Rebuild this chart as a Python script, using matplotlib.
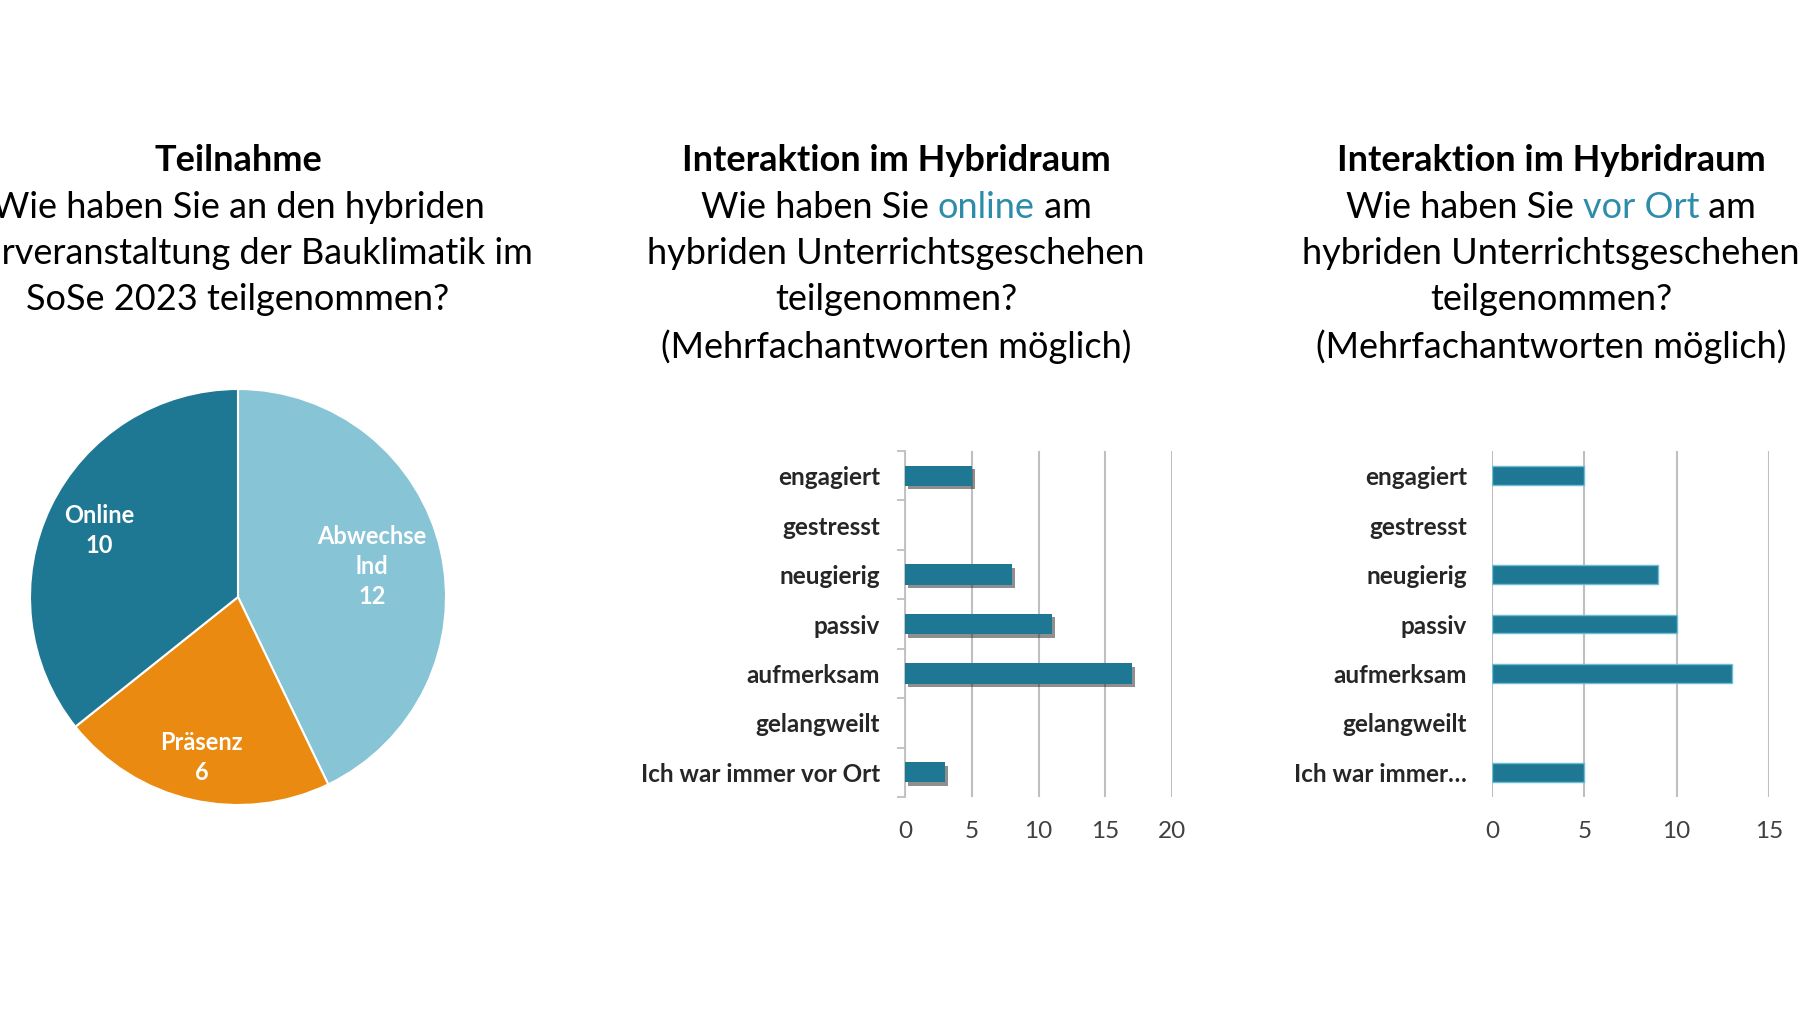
import numpy as np
import matplotlib
matplotlib.use("Agg")
from matplotlib import pyplot as plt
import matplotlib.patheffects as pe

plt.rcParams['font.family'] = ['Lato', 'DejaVu Sans']

# Daten
pie_labels = ['Abwechse\nlnd', 'Präsenz', 'Online']
pie_values = [12, 6, 10]
pie_colors = ['#87C4D5', '#EA8A10', '#1F7893']
pie_label_dist = [0.66, 0.79, 0.74]

kategorien = ['engagiert', 'gestresst', 'neugierig', 'passiv', 'aufmerksam',
              'gelangweilt', 'Ich war immer vor Ort']
kategorien_rechts = ['engagiert', 'gestresst', 'neugierig', 'passiv', 'aufmerksam',
                     'gelangweilt', 'Ich war immer…']
werte_online = [5, 0, 8, 11, 17, 0, 3]
werte_vorort = [5, 0, 9, 10, 13, 0, 5]
ticks_online = [0, 5, 10, 15, 20]
ticks_vorort = [0, 5, 10, 15]

BAR = '#1F7893'
BLAU = '#2E8CAB'
GRID = '#BFBFBF'
W, H = 1800, 1016

fig = plt.figure(figsize=(18, 10.16), dpi=100)
renderer = fig.canvas.get_renderer()


def zeile(xc, yc, teile, size=26, weight='normal'):
    # eine Titelzeile aus mehreren farbigen Teilen, zentriert bei xc (Pixel)
    texte = []
    for s, c in teile:
        t = fig.text(0, 1 - yc / H, s, color=c, fontsize=size, weight=weight,
                     ha='left', va='center')
        texte.append(t)
    breiten = [t.get_window_extent(renderer).width for t in texte]
    x = xc - sum(breiten) / 2
    for t, b in zip(texte, breiten):
        t.set_x(x / W)
        x += b


# Titel
ys = [161, 207, 254, 300, 347]
zeile(238, ys[0], [('Teilnahme', 'black')], weight='bold')
zeile(238, ys[1], [('Wie haben Sie an den hybriden', 'black')])
zeile(238, ys[2], [('Lehrveranstaltung der Bauklimatik im', 'black')])
zeile(238, ys[3], [('SoSe 2023 teilgenommen?', 'black')])

for xc, wort in [(896, 'online'), (1551, 'vor Ort')]:
    zeile(xc, ys[0], [('Interaktion im Hybridraum', 'black')], weight='bold')
    zeile(xc, ys[1], [('Wie haben Sie ', 'black'), (wort, BLAU), (' am', 'black')])
    zeile(xc, ys[2], [('hybriden Unterrichtsgeschehen', 'black')])
    zeile(xc, ys[3], [('teilgenommen?', 'black')])
    zeile(xc, ys[4], [('(Mehrfachantworten möglich)', 'black')])

# Kreisdiagramm
ax1 = fig.add_axes([30 / W, 211 / H, 416 / W, 416 / H])
wedges, _ = ax1.pie(pie_values, colors=pie_colors, startangle=90, counterclock=False,
                    wedgeprops=dict(edgecolor='white', linewidth=1.5))
ax1.set_xlim(-1, 1)
ax1.set_ylim(-1, 1)
ax1.set_aspect('equal')
for w, lab, val, d in zip(wedges, pie_labels, pie_values, pie_label_dist):
    a = np.deg2rad((w.theta1 + w.theta2) / 2)
    ax1.text(d * np.cos(a), d * np.sin(a), f'{lab}\n{val}', ha='center', va='center',
             color='white', fontsize=17, weight='bold', linespacing=1.35)

y = np.arange(len(kategorien))

# Balken online
ax2 = fig.add_axes([905 / W, 219 / H, 267 / W, 346 / H])
ax2.barh(y, werte_online, height=0.41, color=BAR, zorder=3,
         path_effects=[pe.SimplePatchShadow(offset=(2, -2.5), shadow_rgbFace='#202020', alpha=0.5),
                       pe.Normal()])
ax2.set_ylim(len(kategorien) - 0.5, -0.5)
ax2.set_xlim(0, 20)
ax2.set_xticks(ticks_online)
ax2.set_yticks(y)
ax2.set_yticklabels(kategorien, fontsize=17.5, weight='bold', color='#262626')
ax2.set_yticks(np.arange(len(kategorien) + 1) - 0.5, minor=True)
ax2.tick_params(axis='y', which='major', length=0, pad=18)
ax2.tick_params(axis='y', which='minor', length=6, width=1.3, color=GRID, direction='out')
ax2.grid(axis='x', color=GRID, linewidth=1.5, zorder=0)
for s in ['top', 'right', 'bottom']:
    ax2.spines[s].set_visible(False)
ax2.spines['left'].set_color(GRID)
ax2.spines['left'].set_linewidth(1.3)

# Balken vor Ort
ax3 = fig.add_axes([1492 / W, 219 / H, 277 / W, 346 / H])
kanten = [1 if v > 0 else 0 for v in werte_vorort]
ax3.barh(y, werte_vorort, height=0.38, color=BAR, edgecolor='#6BBCD4', linewidth=kanten, zorder=3)
ax3.set_ylim(len(kategorien) - 0.5, -0.5)
ax3.set_xlim(0, 15)
ax3.set_xticks(ticks_vorort)
ax3.set_yticks(y)
ax3.set_yticklabels(kategorien_rechts, fontsize=17.5, weight='bold', color='#262626')
ax3.tick_params(axis='y', length=0, pad=18)
ax3.grid(axis='x', color=GRID, linewidth=1.5, zorder=0)
for s in ax3.spines.values():
    s.set_visible(False)

for ax in (ax2, ax3):
    ax.tick_params(axis='x', length=0, pad=17, labelsize=17.5, labelcolor='#404040')
    ax.set_axisbelow(True)

fig.savefig('out.png', dpi=100, facecolor='white')
